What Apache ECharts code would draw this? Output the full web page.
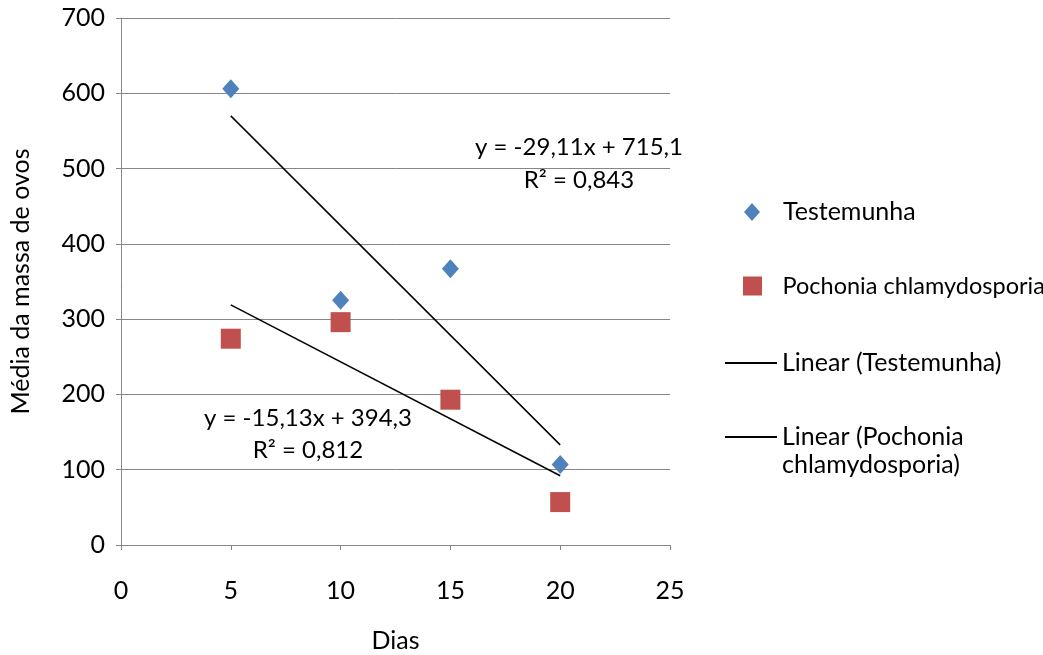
<!DOCTYPE html>
<html>
<head>
<meta charset="utf-8">
<script src="https://cdn.jsdelivr.net/npm/echarts@6/dist/echarts.min.js"></script>
<style>html,body{margin:0;padding:0;background:#fff}#c{width:1043px;height:655px}</style>
</head>
<body>
<div id="c"></div>
<script>
const dias = [5, 10, 15, 20];
const testemunha = [606, 325, 367, 107];
const pochonia = [274, 296, 193, 57];
const trendTestX = [5, 20];
const trendTestY = [570, 133];
const trendPochX = [5, 20];
const trendPochY = [319, 92];
const eqTest = ['y = -29,11x + 715,1', 'R² = 0,843'];
const eqPoch = ['y = -15,13x + 394,3', 'R² = 0,812'];
const FONT = 'Lato';
const FS = 25;
const pair = (xs, ys) => xs.map((x, i) => [x, ys[i]]);

const txt = {fontFamily: FONT, fontSize: FS, color: '#000'};
const chart = echarts.init(document.getElementById('c'), null, {renderer: 'canvas'});
chart.setOption({
  animation: false,
  backgroundColor: '#fff',
  textStyle: {fontFamily: FONT, color: '#000'},
  grid: {left: 121, right: 373, top: 18, bottom: 110, containLabel: false, outerBoundsMode: 'none'},
  xAxis: {
    type: 'value', min: 0, max: 25, interval: 5,
    name: 'Dias', nameLocation: 'middle', nameGap: 83,
    nameTextStyle: txt,
    axisLine: {show: true, lineStyle: {color: '#868686', width: 1}},
    axisTick: {show: true, length: 5, lineStyle: {color: '#868686'}},
    axisLabel: Object.assign({margin: 33}, txt),
    splitLine: {show: false}
  },
  yAxis: {
    type: 'value', min: 0, max: 700, interval: 100,
    name: 'Média da massa de ovos', nameLocation: 'middle', nameGap: 88,
    nameTextStyle: txt,
    axisLine: {show: true, lineStyle: {color: '#868686', width: 1}},
    axisTick: {show: true, length: 5, lineStyle: {color: '#868686'}},
    axisLabel: Object.assign({margin: 16}, txt),
    splitLine: {show: true, lineStyle: {color: '#868686', width: 1}}
  },
  legend: [
    {
      data: [{name: 'Testemunha', icon: 'path://M8,0L16,9L8,18L0,9Z M34,9L34.01,9'}],
      left: 744, top: 197, padding: 0,
      itemWidth: 34, itemHeight: 18,
      textStyle: Object.assign({lineHeight: 30}, txt)
    },
    {
      data: [{name: 'Pochonia chlamydosporia', icon: 'path://M0,0L19,0L19,19L0,19Z M34,9.5L34.01,9.5'}],
      left: 743, top: 271, padding: 0,
      itemWidth: 35, itemHeight: 19,
      textStyle: {fontFamily: FONT, fontSize: 23.5, color: '#000', lineHeight: 30}
    },
    {
      data: [{name: 'Linear (Testemunha)', icon: 'rect'}], left: 725, top: 348, padding: 0,
      itemWidth: 52, itemHeight: 2,
      textStyle: Object.assign({lineHeight: 30}, txt)
    },
    {
      data: [{name: 'Linear (Pochonia chlamydosporia)', icon: 'rect'}], left: 725, top: 395, padding: 0,
      itemWidth: 52, itemHeight: 2,
      textStyle: Object.assign({lineHeight: 28}, txt),
      formatter: function () { return ' \nLinear (Pochonia\nchlamydosporia)'; }
    }
  ],
  series: [
    {
      name: 'Testemunha', type: 'scatter', symbol: 'diamond', symbolSize: [17, 19],
      itemStyle: {color: '#4F81BD', opacity: 1}, data: pair(dias, testemunha), z: 3
    },
    {
      name: 'Pochonia chlamydosporia', type: 'scatter', symbol: 'rect', symbolSize: 20,
      itemStyle: {color: '#C0504D', opacity: 1}, data: pair(dias, pochonia), z: 3
    },
    {
      name: 'Linear (Testemunha)', type: 'line', showSymbol: false, symbol: 'none',
      lineStyle: {color: '#000', width: 1.5}, itemStyle: {color: '#000'},
      data: pair(trendTestX, trendTestY), z: 2
    },
    {
      name: 'Linear (Pochonia chlamydosporia)', type: 'line', showSymbol: false, symbol: 'none',
      lineStyle: {color: '#000', width: 1.5}, itemStyle: {color: '#000'},
      data: pair(trendPochX, trendPochY), z: 2
    }
  ],
  graphic: [
    {type: 'text', x: 579, y: 147, style: {text: eqTest[0], font: '24px ' + FONT, fill: '#000', align: 'center', verticalAlign: 'middle'}},
    {type: 'text', x: 579, y: 180, style: {text: eqTest[1], font: '24px ' + FONT, fill: '#000', align: 'center', verticalAlign: 'middle'}},
    {type: 'text', x: 308, y: 418, style: {text: eqPoch[0], font: '24px ' + FONT, fill: '#000', align: 'center', verticalAlign: 'middle'}},
    {type: 'text', x: 308, y: 450, style: {text: eqPoch[1], font: '24px ' + FONT, fill: '#000', align: 'center', verticalAlign: 'middle'}}
  ]
});
</script>
</body>
</html>
